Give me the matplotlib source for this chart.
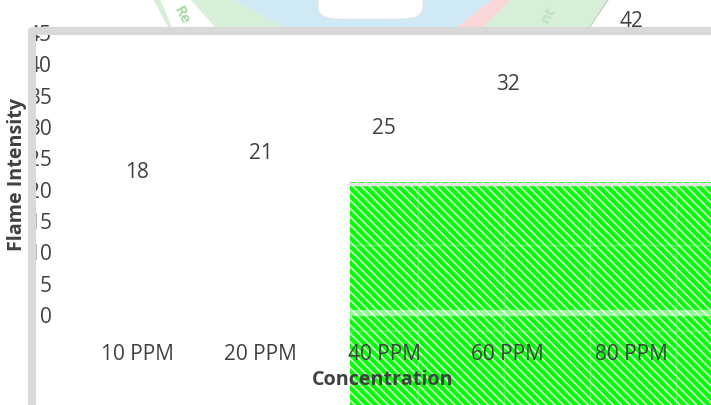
import matplotlib.pyplot as plt
from matplotlib.patches import Polygon, Rectangle, FancyBboxPatch
from matplotlib.lines import Line2D

categories = ['10 PPM', '20 PPM', '40 PPM', '60 PPM', '80 PPM']
intensity = [18, 21, 25, 32, 42]
y_ticks = [0, 5, 10, 15, 20, 25, 30, 35, 40, 45]

W, H = 711, 406
plt.rcParams['font.family'] = ['Open Sans', 'DejaVu Sans']
plt.rcParams['hatch.linewidth'] = 1.3

fig = plt.figure(figsize=(W / 100, H / 100), dpi=100)
fig.patch.set_facecolor('white')


def fx(x):
    return x / W


def fy(y):
    return 1 - y / H


def poly(pts, color, z=-2):
    fig.patches.append(Polygon([(fx(x), fy(y)) for x, y in pts], closed=True,
                               transform=fig.transFigure, facecolor=color,
                               edgecolor='none', zorder=z))


# watermark remains at the top
poly([(153, 0), (232, 0), (282, 28), (168, 28)], '#d6efd6')
poly([(160, 0), (190, 0), (215, 28), (172, 28)], '#ffffff')
poly([(232, 0), (493, 0), (457, 28), (282, 28)], '#cfeaf4')
poly([(493, 0), (512, 0), (483, 28), (457, 28)], '#fbd6d8')
poly([(512, 0), (610, 0), (590, 28), (483, 28)], '#d6efd6')
fig.patches.append(FancyBboxPatch((fx(318), fy(20)), fx(105), fy(-30) - fy(20),
                                  boxstyle='round,pad=0,rounding_size=0.03',
                                  transform=fig.transFigure, facecolor='white',
                                  edgecolor='#e6e6e6', lw=0.8, zorder=-1.5))
fig.text(fx(182), fy(15), 'Re', color='#a9d9a9', fontsize=11, fontweight='bold',
         rotation=-62, ha='center', va='center', zorder=-1)
fig.text(fx(548), fy(15), 'nt', color='#bfe3bf', fontsize=11, fontweight='bold',
         rotation=62, ha='center', va='center', zorder=-1)
fig.lines.append(Line2D([fx(590), fx(608)], [fy(28), fy(0)], transform=fig.transFigure,
                        color='#cccccc', lw=0.8, zorder=-1))

# green hatched block
fig.patches.append(Rectangle((fx(350), 0), fx(W - 350), fy(183), transform=fig.transFigure,
                             facecolor='#00ff00', edgecolor='#cdf5cd', hatch='\\' * 4,
                             lw=0, zorder=-1))
for x in [418, 504, 590, 676]:
    fig.lines.append(Line2D([fx(x), fx(x)], [0, fy(186)], transform=fig.transFigure,
                            color='white', alpha=0.25, lw=1, zorder=-0.9))
for y in [246, 332]:
    fig.lines.append(Line2D([fx(350), 1], [fy(y), fy(y)], transform=fig.transFigure,
                            color='white', alpha=0.25, lw=1, zorder=-0.9))
fig.lines.append(Line2D([fx(350), 1], [fy(185), fy(185)], transform=fig.transFigure,
                        color='#e4e4e4', lw=2.5, zorder=-0.8))
fig.lines.append(Line2D([fx(350), 1], [fy(313.5), fy(313.5)], transform=fig.transFigure,
                        color='white', alpha=0.55, lw=4.5, zorder=-0.8))

ax = fig.add_axes([fx(75.25), fy(315), fx(617.5), fy(33) - fy(315)])
ax.patch.set_visible(False)
bars = ax.bar(categories, intensity, width=0.6, color='none')
ax.bar_label(bars, padding=14, fontsize=15, color='#404040')
ax.set_xlim(-0.5, len(categories) - 0.5)
ax.set_ylim(0, 45)
ax.set_yticks(y_ticks)
ax.tick_params(axis='y', length=0, pad=17, labelsize=15, labelcolor='#404040')
ax.tick_params(axis='x', length=0, pad=21, labelsize=15, labelcolor='#404040')
for s in ax.spines.values():
    s.set_visible(False)

fig.text(fx(383), fy(380), 'Concentration', fontsize=14.2, fontweight='bold',
         color='#404040', ha='center', va='center')
fig.text(fx(17), fy(174), 'Flame Intensity', fontsize=14.2, fontweight='bold',
         color='#404040', ha='center', va='center', rotation=90)

# grey frame over the left and top edges
fig.lines.append(Line2D([fx(32), fx(32), 1.01], [-0.01, fy(31.5), fy(31.5)],
                        transform=fig.transFigure, color='#d9d9d9', lw=5.8,
                        solid_joinstyle='round', zorder=5))

fig.savefig('out.png', dpi=100)
